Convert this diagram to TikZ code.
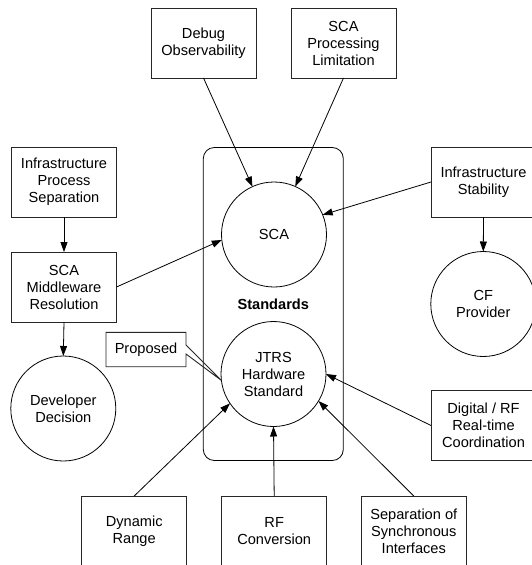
\documentclass[tikz,border=0pt]{standalone}
\usepackage{fontspec}
\setmainfont{Liberation Sans}
\usetikzlibrary{arrows.meta,calc}
\begin{document}
\begin{tikzpicture}[x=1pt,y=-1pt,
  every node/.style={font=\fontsize{14.6}{17}\selectfont, align=center, inner sep=0pt, outer sep=0pt},
  box/.style={draw=black!85, line width=0.9pt, rectangle, minimum width=105pt, minimum height=70pt},
  circ/.style={draw=black, line width=0.8pt, circle, minimum size=105pt},
  arr/.style={draw=black, line width=0.8pt, -{Triangle[length=10pt,width=7pt]}}]
\clip (0,0) rectangle (532,565);
\fill[white] (0,0) rectangle (532,565);
% container
\node[draw=black, line width=0.8pt, rounded corners=11pt, minimum width=140pt, minimum height=313pt] (std) at (273.3,304) {};
\node[font=\fontsize{14.6}{17}\selectfont\bfseries] (stdlabel) at (273.3,304) {Standards};
% top boxes
\node[box] (debug) at (203.5,43) {Debug\\Observability};
\node[box] (spl) at (343.5,43) {SCA\\Processing\\Limitation};
% left
\node[box] (ips) at (64,182) {Infrastructure\\Process\\Separation};
\node[box] (scamr) at (64,287) {SCA\\Middleware\\Resolution};
\node[circ] (dev) at (63.3,408.5) {Developer\\Decision};
% circles in container
\node[circ] (sca) at (274,234.5) {SCA};
\node[circ] (jtrs) at (273.5,374) {JTRS\\Hardware\\Standard};
% right
\node[box] (is) at (483.5,182) {Infrastructure\\Stability};
\node[circ] (cf) at (483.3,304) {CF\\Provider};
\node[box] (drf) at (483.5,425.5) {Digital / RF\\Real-time\\Coordination};
% bottom
\node[box] (dr) at (134.2,531) {Dynamic\\Range};
\node[box] (rfc) at (274.2,531) {RF\\Conversion};
\node[box] (sep) at (413.8,531) {Separation of\\Synchronous\\Interfaces};
% proposed callout
\node[minimum width=80pt, minimum height=34.4pt] (prop) at (146,349.5) {Proposed};
\draw[draw=black!85, line width=0.9pt, line join=miter]
  (prop.north west) -- (prop.north east) -- ($(prop.east)+(0,-4.5)$) -- (jtrs.187)
  -- ($(prop.east)+(0,4.5)$) -- (prop.south east) -- (prop.south west) -- cycle;
% connectors
\draw[arr] (debug.south) -- (sca);
\draw[arr] (spl.south) -- (sca);
\draw[arr] (is.west) -- (sca.22);
\draw[arr] (is.south) -- (cf.north);
\draw[arr] (ips.south) -- (scamr.north);
\draw[arr] (scamr.east) -- (sca.186);
\draw[arr] (scamr.south) -- (dev.north);
\draw[arr] (drf.west) -- (jtrs.east);
\draw[arr] (dr.north) -- (jtrs.214);
\draw[arr] (rfc.north) -- (jtrs.south);
\draw[arr] (sep.north) -- (jtrs.-31);
\end{tikzpicture}
\end{document}
